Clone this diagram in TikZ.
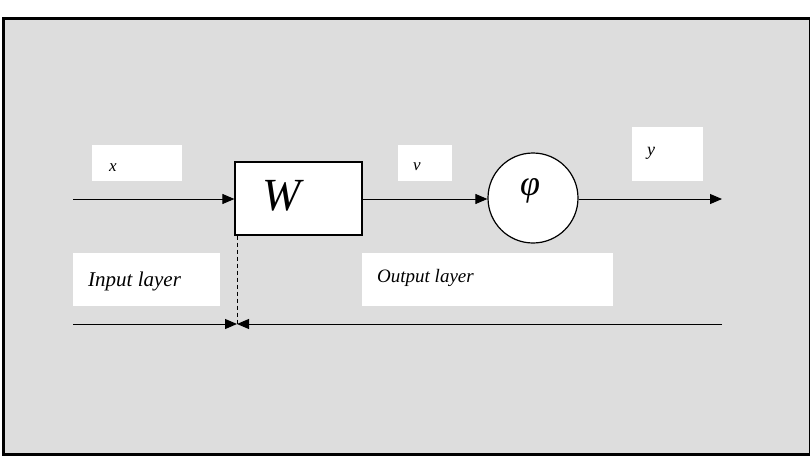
\documentclass[tikz,border=0pt]{standalone}
\usepackage{fontspec}
\setmainfont{Liberation Serif}
\usetikzlibrary{arrows.meta}
\definecolor{bggray}{HTML}{DDDDDD}
\begin{document}
\begin{tikzpicture}[x=1pt,y=-1pt,
  lbl/.style={fill=white,draw=none,inner sep=0pt,anchor=north west},
  conn/.style={line width=1pt,-{Triangle[length=12pt,width=10pt]}},
  txt/.style={inner sep=0pt,font=\itshape}]
\useasboundingbox (0,0) rectangle (810,456);
\node[draw=black,line width=3pt,fill=bggray,minimum width=807pt,minimum height=436pt,anchor=north west,inner sep=0pt] (frame) at (1.5,16.5) {};
% label boxes
\node[lbl,minimum width=90pt,minimum height=36pt] (xbox) at (92,145) {};
\node[txt,font=\itshape\fontsize{17}{17}\selectfont] (xt) at (113,168) {x};
\node[lbl,minimum width=54pt,minimum height=36pt] (vbox) at (398,145) {};
\node[txt,font=\itshape\fontsize{17}{17}\selectfont] (vt) at (417,167) {v};
\node[lbl,minimum width=71pt,minimum height=54pt] (ybox) at (632,127) {};
\node[txt,font=\itshape\fontsize{18}{18}\selectfont] (yt) at (651,153) {y};
\node[lbl,minimum width=147pt,minimum height=53pt] (inbox) at (73,253) {};
\node[txt,font=\itshape\fontsize{21}{21}\selectfont,anchor=base west] (int) at (88,286) {Input layer};
\node[lbl,minimum width=251pt,minimum height=53pt] (outbox) at (362,253) {};
\node[txt,font=\itshape\fontsize{19}{19}\selectfont,anchor=base west] (outt) at (377,282) {Output layer};
% W block
\node[draw=black,line width=1.2pt,fill=white,minimum width=127pt,minimum height=73pt,inner sep=0pt] (W) at (298.5,198.5) {};
\node[txt,font=\itshape\fontsize{46}{46}\selectfont] (Wt) at (282,196) {W};
% phi circle
\node[draw=black,line width=1.2pt,fill=white,circle,minimum size=90pt,inner sep=0pt] (phi) at (533,198) {};
\node[txt,font=\itshape\fontsize{36}{36}\selectfont] (phit) at (530,191) {φ};
% connectors
\coordinate (in) at (73,199);
\coordinate (out) at (722,199);
\draw[conn] (in) -- (W.west |- in);
\draw[conn] (W.east |- in) -- (phi.west |- in);
\draw[conn] (phi.east |- in) -- (out);
% layer divider
\coordinate (mid) at (237,324);
\coordinate (bl) at (73,324);
\coordinate (br) at (722,324);
\draw[dash pattern=on 4pt off 3pt,line width=0.8pt] (W.south west -| mid) -- (mid);
\draw[conn] (bl) -- (mid);
\draw[conn] (br) -- (mid);
\end{tikzpicture}
\end{document}
